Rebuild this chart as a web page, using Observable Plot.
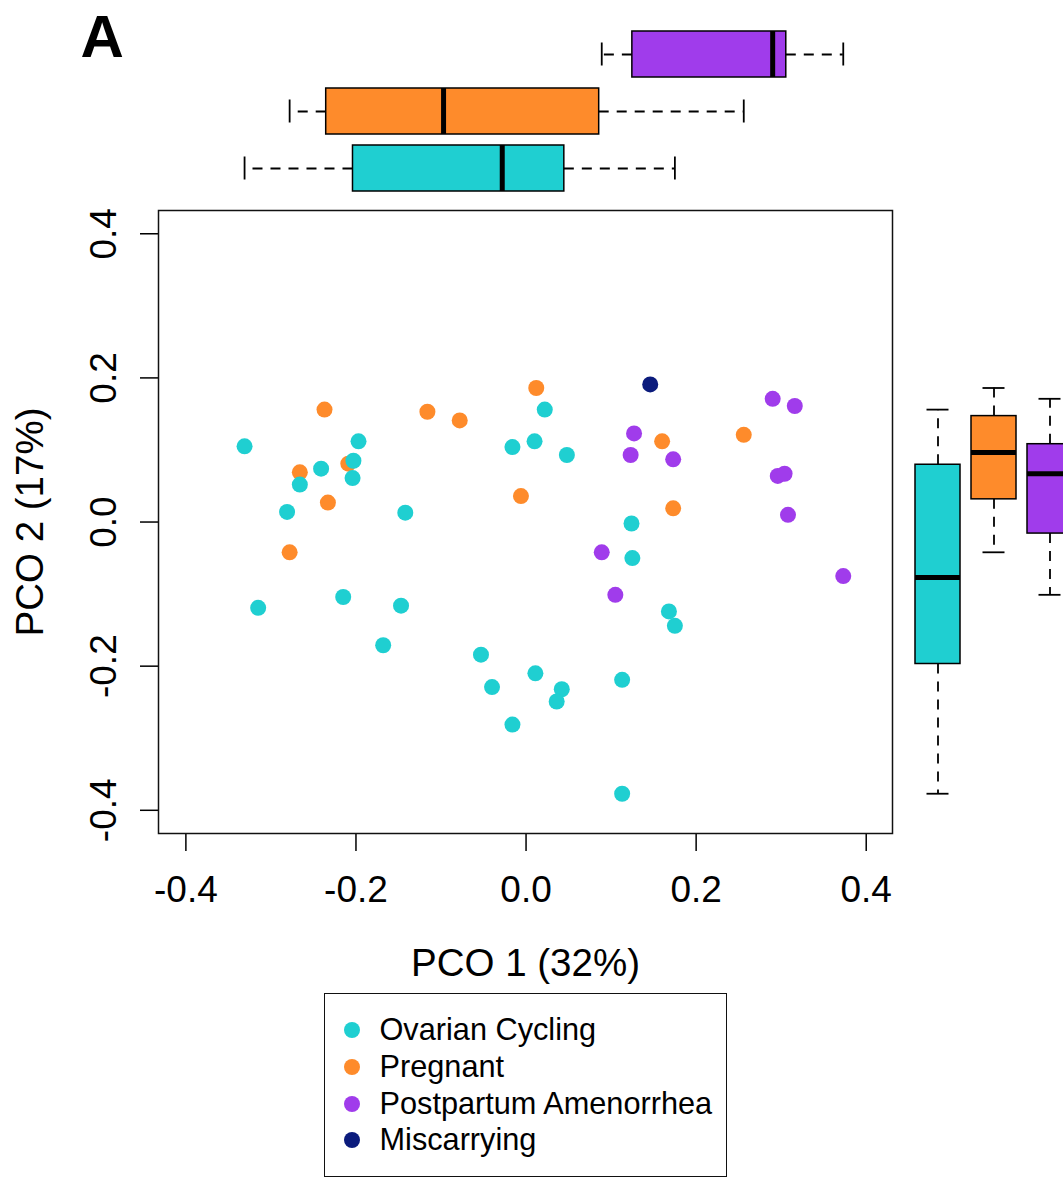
<!DOCTYPE html>
<html>
<head>
<meta charset="utf-8">
<script src="https://cdn.jsdelivr.net/npm/d3@7"></script>
<script src="https://cdn.jsdelivr.net/npm/@observablehq/plot@0.6"></script>
<style>
  html, body { margin: 0; padding: 0; background: #fff; overflow: hidden; }
  #fig { position: relative; width: 1063px; height: 1177px; overflow: hidden;
         font-family: "Liberation Sans", Arial, Helvetica, sans-serif; color: #000; }
  #fig svg { position: absolute; top: 0; max-width: none; background: transparent; }
  .legend { position: absolute; left: 324px; top: 993px; width: 403px; height: 184px;
            box-sizing: border-box; border: 1.5px solid #111; padding-top: 18px; }
  .legend .item { display: flex; align-items: center; height: 36.7px; font-size: 30.7px; white-space: nowrap; }
  .legend .swatch { flex: none; width: 16px; height: 16px; border-radius: 50%;
                    margin-left: 19px; margin-right: 19.5px; }
</style>
</head>
<body>
<div id="fig"></div>
<script>
// Sample groups and their colours
const groups = ["Ovarian Cycling", "Pregnant", "Postpartum Amenorrhea", "Miscarrying"];
const groupColors = ["#1fcfd1", "#fe8b2b", "#a03ceb", "#0b1b7c"];

// PCoA scores (PCO 1, PCO 2) per group
const cyclingPco1 = [-0.331, -0.197, -0.241, -0.203, -0.204, -0.266, -0.281, -0.142, -0.016, 0.010,
                     0.022, 0.048, 0.124, 0.125, 0.168, 0.175, -0.315, -0.215, -0.147, -0.168,
                     -0.053, -0.040, -0.016, 0.011, 0.042, 0.036, 0.113, 0.113];
const cyclingPco2 = [0.105, 0.112, 0.074, 0.085, 0.061, 0.052, 0.014, 0.013, 0.104, 0.112,
                     0.156, 0.093, -0.002, -0.050, -0.124, -0.144, -0.119, -0.104, -0.116, -0.171,
                     -0.184, -0.229, -0.281, -0.210, -0.232, -0.249, -0.219, -0.377];
const pregnantPco1 = [-0.237, -0.116, -0.078, -0.209, -0.266, -0.233, -0.006, 0.012, 0.160, 0.256, 0.173, -0.278];
const pregnantPco2 = [0.156, 0.153, 0.141, 0.081, 0.069, 0.027, 0.036, 0.186, 0.112, 0.121, 0.019, -0.042];
const postpartumPco1 = [0.290, 0.316, 0.127, 0.123, 0.173, 0.296, 0.304, 0.308, 0.089, 0.373, 0.105];
const postpartumPco2 = [0.171, 0.161, 0.123, 0.093, 0.087, 0.064, 0.067, 0.010, -0.042, -0.075, -0.101];
const miscarryingPco1 = [0.146];
const miscarryingPco2 = [0.191];

// Axis ticks
const xTicks = [-0.4, -0.2, 0.0, 0.2, 0.4];
const yTicks = [-0.4, -0.2, 0.0, 0.2, 0.4];

const series = [
  {group: groups[0], pco1: cyclingPco1, pco2: cyclingPco2},
  {group: groups[1], pco1: pregnantPco1, pco2: pregnantPco2},
  {group: groups[2], pco1: postpartumPco1, pco2: postpartumPco2},
  {group: groups[3], pco1: miscarryingPco1, pco2: miscarryingPco2}
];

// Drawing order of the points: pregnant, cycling, postpartum, miscarrying
const drawOrder = [1, 0, 2, 3];
const points = drawOrder.flatMap(i =>
  series[i].pco1.map((v, j) => ({group: series[i].group, pco1: v, pco2: series[i].pco2[j]})));

// Tukey five-number summary with 1.5 IQR whiskers (as in R's boxplot)
function boxStats(values) {
  const s = values.slice().sort(d3.ascending);
  const n = s.length;
  const n4 = Math.floor((n + 3) / 2) / 2;
  const at = d => 0.5 * (s[Math.floor(d) - 1] + s[Math.ceil(d) - 1]);
  const q1 = at(n4), med = at((n + 1) / 2), q3 = at(n + 1 - n4);
  const iqr = q3 - q1;
  const lo = d3.min(s.filter(v => v >= q1 - 1.5 * iqr));
  const hi = d3.max(s.filter(v => v <= q3 + 1.5 * iqr));
  return {q1, med, q3, lo, hi};
}

const boxSeries = series.slice(0, 3);
const statsX = boxSeries.map(d => ({group: d.group, ...boxStats(d.pco1)}));
const statsY = boxSeries.map(d => ({group: d.group, ...boxStats(d.pco2)}));

const xDomain = [-0.4322, 0.4309];
const yDomain = [-0.4322, 0.4323];
const color = {domain: groups, range: groupColors};
const font = '"Liberation Sans", Arial, Helvetica, sans-serif';
const whisker = {stroke: "#000", strokeWidth: 1.8, strokeDasharray: "10,8"};
const cap = 11.5;

// Scatter plot of the two principal coordinates
const main = Plot.plot({
  width: 1063, height: 990,
  marginLeft: 158, marginRight: 171, marginTop: 210, marginBottom: 157,
  x: {domain: xDomain},
  y: {domain: yDomain},
  color,
  style: {fontFamily: font, fontSize: "37px", color: "#000", background: "transparent", overflow: "visible"},
  marks: [
    Plot.axisX({ticks: xTicks, tickSize: 18, tickPadding: 24, tickFormat: d => d.toFixed(1), strokeWidth: 1.5, label: null}),
    Plot.axisY({ticks: yTicks, tickSize: 18, fill: "none", strokeWidth: 1.5, label: null}),
    Plot.text(yTicks, {y: d => d, text: d => d.toFixed(1), frameAnchor: "left", dx: -43, rotate: -90, textAnchor: "middle", lineAnchor: "bottom"}),
    Plot.frame({stroke: "#111", strokeWidth: 1.5}),
    Plot.dot(points, {x: "pco1", y: "pco2", fill: "group", r: 8}),
    Plot.text(["PCO 1 (32%)"], {frameAnchor: "bottom", dy: 142, textAnchor: "middle", lineAnchor: "bottom", fontSize: 38.5}),
    Plot.text(["PCO 2 (17%)"], {frameAnchor: "left", dx: -116, rotate: -90, textAnchor: "middle", lineAnchor: "bottom", fontSize: 38.5}),
    Plot.text(["A"], {frameAnchor: "top-left", dx: -78, dy: -154, textAnchor: "start", lineAnchor: "bottom", fontSize: 60, fontWeight: "bold"})
  ]
});

// Horizontal boxplots of PCO 1 above the scatter
const topBox = Plot.plot({
  width: 1063, height: 200,
  marginLeft: 158, marginRight: 171, marginTop: 24.85, marginBottom: 3.25,
  x: {domain: xDomain, axis: null},
  y: {domain: boxSeries.map(d => d.group).reverse(), axis: null, paddingInner: 0.2, paddingOuter: 0.1},
  color,
  style: {background: "transparent", overflow: "visible"},
  marks: [
    Plot.ruleY(statsX, {y: "group", x1: "q1", x2: "lo", ...whisker}),
    Plot.ruleY(statsX, {y: "group", x1: "q3", x2: "hi", ...whisker}),
    Plot.tickX(statsX, {x: "lo", y: "group", insetTop: cap, insetBottom: cap, stroke: "#000", strokeWidth: 1.8}),
    Plot.tickX(statsX, {x: "hi", y: "group", insetTop: cap, insetBottom: cap, stroke: "#000", strokeWidth: 1.8}),
    Plot.barX(statsX, {y: "group", x1: "q1", x2: "q3", fill: "group", stroke: "#000", strokeWidth: 1.5}),
    Plot.tickX(statsX, {x: "med", y: "group", stroke: "#000", strokeWidth: 5})
  ]
});

// Vertical boxplots of PCO 2 to the right of the scatter
const sideBox = Plot.plot({
  width: 200, height: 990,
  marginLeft: 27.5, marginRight: 1.6, marginTop: 210, marginBottom: 157,
  x: {domain: boxSeries.map(d => d.group), axis: null, paddingInner: 0.2, paddingOuter: 0.1},
  y: {domain: yDomain, axis: null},
  color,
  style: {background: "transparent", overflow: "visible"},
  marks: [
    Plot.ruleX(statsY, {x: "group", y1: "q3", y2: "hi", ...whisker}),
    Plot.ruleX(statsY, {x: "group", y1: "q1", y2: "lo", ...whisker}),
    Plot.tickY(statsY, {y: "lo", x: "group", insetLeft: cap, insetRight: cap, stroke: "#000", strokeWidth: 1.8}),
    Plot.tickY(statsY, {y: "hi", x: "group", insetLeft: cap, insetRight: cap, stroke: "#000", strokeWidth: 1.8}),
    Plot.barY(statsY, {x: "group", y1: "q1", y2: "q3", fill: "group", stroke: "#000", strokeWidth: 1.5}),
    Plot.tickY(statsY, {y: "med", x: "group", stroke: "#000", strokeWidth: 5})
  ]
});

const fig = document.getElementById("fig");
main.style.left = "0px";
topBox.style.left = "0px";
sideBox.style.left = "880px";
fig.append(main, topBox, sideBox);

// Legend
const legend = document.createElement("div");
legend.className = "legend";
groups.forEach((g, i) => {
  const item = document.createElement("div");
  item.className = "item";
  const sw = document.createElement("span");
  sw.className = "swatch";
  sw.style.background = groupColors[i];
  const label = document.createElement("span");
  label.textContent = g;
  item.append(sw, label);
  legend.append(item);
});
fig.append(legend);
</script>
</body>
</html>
